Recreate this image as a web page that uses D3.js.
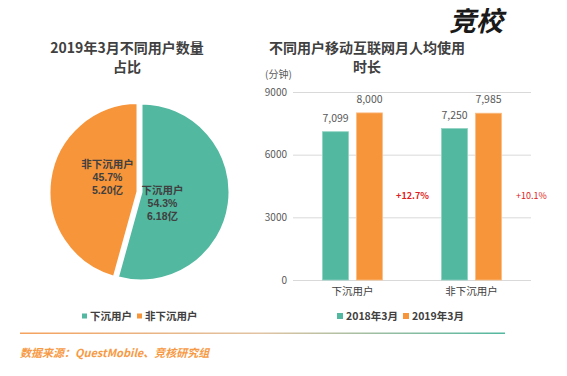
<!DOCTYPE html>
<html>
<head>
<meta charset="utf-8">
<script src="https://cdn.jsdelivr.net/npm/d3@7"></script>
<style>
  body { margin: 0; background: #fff; }
  svg { display: block; font-family: "Noto Sans CJK SC", "Noto Sans", sans-serif; }
</style>
</head>
<body>
<div id="chart"></div>
<script>
// данные
const pieCategories = ['下沉用户', '非下沉用户']
const pieShares = [54.3, 45.7]
const pieUsers = ['6.18亿', '5.20亿']

const barCategories = ['下沉用户', '非下沉用户']
const barSeries = ['2018年3月', '2019年3月']
const minutes2018 = [7099, 7250]
const minutes2019 = [8000, 7985]
const growthLabels = ['+12.7%', '+10.1%']
const yTicks = [0, 3000, 6000, 9000]

const green = '#52b8a0'
const orange = '#f7953a'
const textColor = '#404040'

const width = 567, height = 376
const svg = d3.select('#chart').append('svg')
    .attr('width', width)
    .attr('height', height)

// логотип
svg.append('text')
    .attr('x', 503).attr('y', 31)
    .attr('text-anchor', 'end')
    .attr('font-size', 27)
    .attr('font-weight', 'bold')
    .attr('font-style', 'italic')
    .attr('fill', '#1a1a1a')
    .text('竞校')

// заголовки
function title(x, lines) {
    lines.forEach((l, i) => {
        svg.append('text')
            .attr('x', x).attr('y', 53 + i * 19)
            .attr('text-anchor', 'middle')
            .attr('font-size', 14)
            .attr('font-weight', 'bold')
            .attr('fill', textColor)
            .text(l)
    })
}
title(127, ['2019年3月不同用户数量', '占比'])
title(367, ['不同用户移动互联网月人均使用', '时长'])

// ---- круговая диаграмма ----
const pieColors = [green, orange]
const cx = 141, cy = 192, r = 89
const pie = d3.pie().sort(null).value(d => d)
const arcs = pie(pieShares)
const arc = d3.arc().innerRadius(0).outerRadius(r)
const pieG = svg.append('g').attr('transform', `translate(${cx},${cy})`)

arcs.forEach((a, i) => {
    const explode = i === 1 ? 3 : 0
    const mid = (a.startAngle + a.endAngle) / 2
    const dx = Math.sin(mid) * explode, dy = -Math.cos(mid) * explode
    pieG.append('path')
        .attr('d', arc(a))
        .attr('transform', `translate(${dx},${dy})`)
        .attr('fill', pieColors[i])
        .attr('stroke', '#fff')
        .attr('stroke-width', 3)
})

// подписи секторов
const labelArc = d3.arc().innerRadius(r * 0.38).outerRadius(r * 0.38)
const labelShift = [[-12, 6], [0, -10]]
arcs.forEach((a, i) => {
    const [lx, ly] = labelArc.centroid(a)
    const tx = lx + labelShift[i][0]
    const lines = [pieCategories[i], pieShares[i].toFixed(1) + '%', pieUsers[i]]
    lines.forEach((l, j) => {
        pieG.append('text')
            .attr('x', tx)
            .attr('y', ly + labelShift[i][1] + (j - 1) * 13 + 4)
            .attr('text-anchor', 'middle')
            .attr('font-size', 10.5)
            .attr('font-weight', 'bold')
            .attr('font-family', '"Liberation Sans", "Noto Sans CJK SC", sans-serif')
            .attr('fill', textColor)
            .text(l)
    })
})

// легенда
function legend(x, y, names, colors, size) {
    let cur = x
    names.forEach((n, i) => {
        svg.append('rect')
            .attr('x', cur).attr('y', y - size / 2 - 1)
            .attr('width', size).attr('height', size)
            .attr('fill', colors[i])
        const t = svg.append('text')
            .attr('x', cur + size + 3).attr('y', y + 3)
            .attr('font-size', 10.5)
            .attr('font-weight', 'bold')
            .attr('fill', textColor)
            .text(n)
        cur += size + 3 + t.node().getComputedTextLength() + 5
    })
}
legend(82, 317, pieCategories, pieColors, 5)

// ---- столбчатая диаграмма ----
const plot = { left: 293, right: 531, top: 92, bottom: 280 }
const y = d3.scaleLinear().domain([0, 9000]).range([plot.bottom, plot.top])
const x0 = d3.scaleBand().domain(barCategories).range([plot.left, plot.right])
const x1 = d3.scaleBand().domain(barSeries).range([-30, 30]).paddingInner(0.235).paddingOuter(0)

const yAxis = svg.append('g')
    .attr('transform', `translate(${plot.left},0)`)
    .call(d3.axisLeft(y).tickValues(yTicks).tickSize(-(plot.right - plot.left)).tickFormat(d3.format('d')))
yAxis.select('.domain').remove()
yAxis.selectAll('.tick line').attr('stroke', '#d9d9d9')
yAxis.selectAll('.tick text')
    .attr('x', -6)
    .attr('fill', '#595959')
    .attr('font-size', 10)
    .attr('font-family', '"Noto Sans CJK SC", sans-serif')

svg.append('text')
    .attr('x', 265).attr('y', 78)
    .attr('font-size', 10)
    .attr('fill', '#595959')
    .text('(分钟)')

const barData = barCategories.map((c, i) => ({ cat: c, values: [minutes2018[i], minutes2019[i]] }))
const barColors = [green, orange]
const groups = svg.selectAll('.grp').data(barData).enter().append('g')
    .attr('class', 'grp')
    .attr('transform', d => `translate(${x0(d.cat) + x0.bandwidth() / 2},0)`)

groups.each(function (d) {
    const g = d3.select(this)
    d.values.forEach((v, i) => {
        g.append('rect')
            .attr('x', x1(barSeries[i]))
            .attr('y', y(v))
            .attr('width', x1.bandwidth())
            .attr('height', y(0) - y(v))
            .attr('fill', barColors[i])
            .attr('stroke', i === 0 ? '#8fd3c2' : '#fbbd84')
            .attr('stroke-width', 0.8)
        g.append('text')
            .attr('x', x1(barSeries[i]) + x1.bandwidth() / 2)
            .attr('y', y(v) - 10)
            .attr('text-anchor', 'middle')
            .attr('font-size', 10.5)
            .attr('fill', '#595959')
            .text(d3.format(',')(v))
    })
    g.append('text')
        .attr('x', 0)
        .attr('y', plot.bottom + 15)
        .attr('text-anchor', 'middle')
        .attr('font-size', 10.5)
        .attr('fill', textColor)
        .text(d.cat)
})

// прирост
barCategories.forEach((c, i) => {
    svg.append('text')
        .attr('x', x0(c) + x0.bandwidth() + 0.5)
        .attr('y', y(4000) + 3)
        .attr('text-anchor', 'middle')
        .attr('font-size', 9)
        .attr('font-weight', i === 0 ? 'bold' : 'normal')
        .attr('fill', '#e02020')
        .text(growthLabels[i])
})

legend(337, 317, barSeries, barColors, 6)

// нижняя линия
const grad = svg.append('defs').append('linearGradient').attr('id', 'lineGrad')
grad.append('stop').attr('offset', '0%').attr('stop-color', '#f5a25e')
grad.append('stop').attr('offset', '50%').attr('stop-color', '#e0c4a4')
grad.append('stop').attr('offset', '100%').attr('stop-color', '#52b8a0')
svg.append('rect')
    .attr('x', 20).attr('y', 332.5)
    .attr('width', 485).attr('height', 1.5)
    .attr('fill', 'url(#lineGrad)')

svg.append('text')
    .attr('x', 20).attr('y', 357)
    .attr('font-size', 11)
    .attr('font-weight', 'bold')
    .attr('font-style', 'italic')
    .attr('fill', '#f79a45')
    .text('数据来源：QuestMobile、竞核研究组')
</script>
</body>
</html>
